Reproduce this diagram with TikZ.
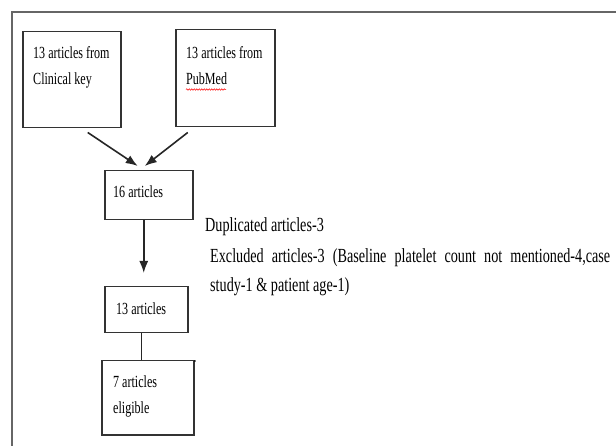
\documentclass[tikz,border=0pt]{standalone}
\usepackage{fontspec}
\setmainfont{Liberation Serif}[FakeStretch=0.71]
\usepackage{tikz}
\usetikzlibrary{arrows.meta,decorations.pathmorphing}

\begin{document}
\begin{tikzpicture}[x=1pt,y=-1pt]
  \tikzstyle{every node}=[inner sep=0pt]
  \tikzstyle{box}=[draw=black!80, line width=1.5pt, anchor=north west]
  \tikzstyle{boxtext}=[anchor=north west, align=left, font=\fontsize{17}{26}\selectfont]
  \tikzstyle{note}=[anchor=north west, align=left, font=\fontsize{20}{29}\selectfont]
  \tikzstyle{arr}=[draw=black!85, line width=1.6pt, -{Latex[length=12pt,width=9pt]}]
  \useasboundingbox (0,0) rectangle (616,446);
  \draw[black!60, line width=1.2pt] (12,446) -- (12,12) -- (616,12);

  \node[box, minimum width=98pt, minimum height=96pt] (clinical) at (22,31) {};
  \node[boxtext] (clinicaltext) at ([xshift=11pt,yshift=-15pt]clinical.north west) {13 articles from\\Clinical key};
  \node[box, minimum width=99pt, minimum height=97pt] (pubmed) at (175,29) {};
  \node[boxtext] (pubmedtext) at ([xshift=11pt,yshift=-17pt]pubmed.north west) {13 articles from\\PubMed};
  \draw[red, line width=0.5pt, decorate, decoration={snake, amplitude=0.8pt, segment length=2.5pt}]
    ([yshift=-5pt]pubmedtext.south west) -- ++(40,0);

  \node[box, minimum width=88pt, minimum height=49pt] (total) at (104,170) {};
  \node[boxtext] (totaltext) at ([xshift=9pt,yshift=-16pt]total.north west) {16 articles};
  \node[box, minimum width=83pt, minimum height=46pt] (screened) at (104,286) {};
  \node[boxtext] (screenedtext) at ([xshift=12pt,yshift=-17pt]screened.north west) {13 articles};
  \node[box, minimum width=92pt, minimum height=74pt] (eligible) at (101,360) {};
  \node[boxtext] (eligibletext) at ([xshift=12pt,yshift=-16pt]eligible.north west) {7 articles\\eligible};
  \fill (195,361) circle (0.8pt);

  \node[note] (duplicated) at (205,217) {Duplicated articles-3};
  \node[note] (excluded) at (210,248)
    {\makebox[400pt][s]{Excluded articles-3 (Baseline platelet count not mentioned-4,case}\\study-1 \& patient age-1)};

  % connectors
  \draw[arr] ([xshift=16pt,yshift=-4pt]clinical.south) -- ([xshift=-11pt,yshift=4pt]total.north);
  \draw[arr] ([xshift=-37.5pt,yshift=-5pt]pubmed.south) -- ([xshift=-4pt,yshift=4pt]total.north);
  \draw[arr, shorten >=13pt] ([xshift=-5pt]total.south) -- ([xshift=-5pt]total.south |- screened.north);
  \draw[draw=black!85, line width=1.4pt] ([xshift=-4.5pt]screened.south) -- ([xshift=-4.5pt]screened.south |- eligible.north);
\end{tikzpicture}
\end{document}
